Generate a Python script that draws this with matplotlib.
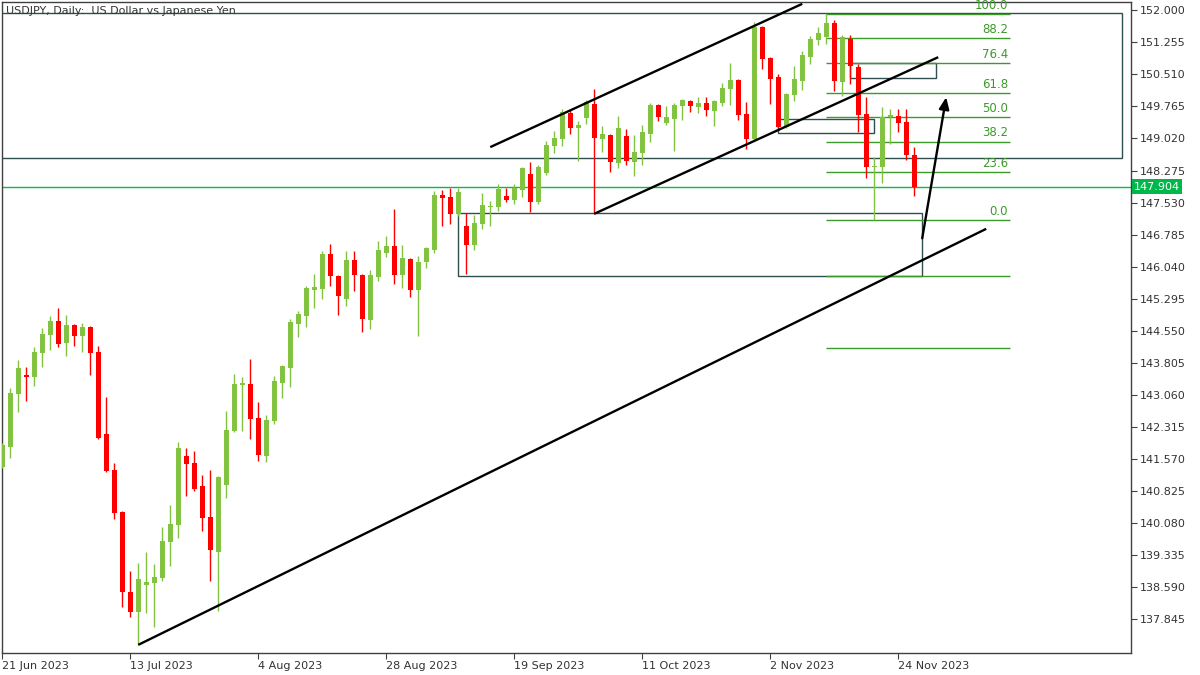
import matplotlib
matplotlib.use('Agg')
import matplotlib.pyplot as plt
import matplotlib.transforms as mtransforms
from matplotlib.patches import Rectangle
import numpy as np

# ---------------- data (USDJPY daily, 21 Jun 2023 - 28 Nov 2023) ----------------
opens = [141.38, 141.85, 143.08, 143.52, 143.48, 144.03, 144.45, 144.78, 144.27, 144.68,
         144.43, 144.64, 144.06, 142.15, 141.31, 140.34, 138.48, 138.01, 138.64, 138.69,
         138.80, 139.64, 140.04, 141.64, 141.48, 140.94, 140.22, 139.41, 140.97, 142.22,
         143.29, 143.31, 142.52, 141.64, 142.45, 143.34, 143.69, 144.71, 144.89, 145.50,
         145.52, 146.34, 145.82, 145.29, 146.20, 145.85, 144.80, 145.80, 146.36, 146.52,
         145.85, 146.22, 145.50, 146.15, 146.43, 147.71, 147.66, 147.27, 146.99, 146.54,
         147.03, 147.43, 147.43, 147.68, 147.59, 147.82, 148.19, 147.54, 148.22, 148.85,
         149.01, 149.61, 149.26, 149.50, 149.82, 149.01, 149.10, 148.45, 149.08, 148.47,
         148.68, 149.12, 149.80, 149.38, 149.47, 149.78, 149.89, 149.75, 149.85, 149.66,
         149.85, 150.17, 150.38, 149.59, 149.01, 151.61, 150.89, 150.45, 149.29, 150.03,
         150.36, 150.91, 151.31, 151.38, 151.70, 150.33, 151.33, 150.68, 149.59, 148.36,
         148.36, 149.52, 149.54, 149.40, 148.64]
highs = [141.94, 143.22, 143.87, 143.71, 144.17, 144.62, 144.89, 145.08, 144.92, 144.71,
         144.73, 144.66, 144.20, 143.01, 141.48, 140.36, 138.97, 139.15, 139.41, 139.13,
         139.99, 140.50, 141.97, 141.83, 141.76, 141.20, 141.31, 141.17, 142.69, 143.55,
         143.48, 143.89, 142.90, 142.59, 143.50, 143.76, 144.82, 145.01, 145.59, 145.87,
         146.41, 146.57, 145.85, 146.41, 146.41, 145.87, 145.96, 146.64, 146.75, 147.38,
         146.54, 146.24, 146.29, 146.50, 147.80, 147.82, 147.87, 147.87, 147.29, 147.24,
         147.75, 147.57, 147.96, 147.87, 147.96, 148.36, 148.47, 148.40, 148.96, 149.19,
         149.71, 149.68, 149.43, 149.92, 150.17, 149.31, 149.12, 149.54, 149.24, 149.10,
         149.33, 149.85, 149.82, 149.78, 149.85, 149.94, 149.92, 149.98, 149.98, 149.92,
         150.31, 150.78, 150.40, 149.87, 151.73, 151.64, 150.91, 150.52, 150.08, 150.70,
         151.05, 151.40, 151.61, 151.91, 151.77, 151.43, 151.43, 150.75, 149.98, 148.59,
         149.75, 149.71, 149.71, 149.71, 148.82]
lows = [141.36, 141.59, 142.66, 142.92, 143.27, 143.71, 144.10, 144.17, 143.96, 144.20,
        144.06, 143.52, 142.04, 141.27, 140.18, 138.13, 137.90, 137.25, 137.99, 137.67,
        138.73, 139.08, 139.73, 140.71, 140.83, 139.90, 138.73, 138.04, 140.66, 142.20,
        142.22, 142.03, 141.52, 141.50, 142.38, 142.99, 143.24, 144.41, 144.64, 145.08,
        145.29, 145.59, 144.92, 145.13, 145.48, 144.52, 144.59, 145.71, 146.27, 145.64,
        145.54, 145.34, 144.43, 146.01, 146.36, 146.99, 147.03, 147.22, 145.87, 146.43,
        146.92, 146.99, 147.33, 147.54, 147.50, 147.66, 147.31, 147.50, 148.17, 148.68,
        148.85, 149.12, 148.50, 149.36, 147.27, 148.71, 148.24, 148.33, 148.40, 148.15,
        148.40, 148.94, 149.43, 149.33, 148.73, 149.45, 149.64, 149.61, 149.54, 149.31,
        149.78, 149.80, 149.45, 148.78, 148.99, 150.63, 149.82, 149.26, 149.26, 149.89,
        150.15, 150.75, 151.19, 151.22, 150.12, 150.01, 150.29, 149.17, 148.10, 147.12,
        147.99, 148.89, 149.17, 148.52, 147.68]
closes = [141.90, 143.10, 143.69, 143.48, 144.06, 144.48, 144.78, 144.24, 144.68, 144.43,
          144.64, 144.03, 142.06, 141.29, 140.31, 138.48, 138.01, 138.78, 138.71, 138.83,
          139.66, 140.06, 141.83, 141.45, 140.87, 140.20, 139.45, 141.15, 142.24, 143.31,
          143.34, 142.50, 141.66, 142.48, 143.38, 143.73, 144.75, 144.94, 145.54, 145.57,
          146.34, 145.82, 145.36, 146.20, 145.85, 144.82, 145.85, 146.43, 146.52, 145.85,
          146.24, 145.50, 146.15, 146.47, 147.71, 147.64, 147.27, 147.78, 146.54, 147.06,
          147.47, 147.45, 147.85, 147.59, 147.87, 148.33, 147.54, 148.36, 148.87, 149.03,
          149.64, 149.26, 149.33, 149.87, 149.03, 149.12, 148.47, 149.26, 148.50, 148.71,
          149.17, 149.80, 149.52, 149.52, 149.80, 149.92, 149.78, 149.85, 149.68, 149.89,
          150.19, 150.38, 149.57, 149.01, 151.61, 150.87, 150.40, 149.29, 150.05, 150.40,
          150.96, 151.33, 151.47, 151.70, 150.36, 151.38, 150.70, 149.57, 148.36, 148.38,
          149.52, 149.57, 149.38, 148.64, 147.904]

date_tick_bars = [0, 16, 32, 48, 64, 80, 96, 112]
date_tick_labels = ['21 Jun 2023', '13 Jul 2023', '4 Aug 2023', '28 Aug 2023',
                    '19 Sep 2023', '11 Oct 2023', '2 Nov 2023', '24 Nov 2023']
price_ticks = [152.000, 151.255, 150.510, 149.765, 149.020, 148.275, 147.530, 146.785,
               146.040, 145.295, 144.550, 143.805, 143.060, 142.315, 141.570, 140.825,
               140.080, 139.335, 138.590, 137.845]
current_price = 147.904

# Fibonacci retracement (swing high 13 Nov, swing low 21 Nov)
fib_high = 151.91
fib_low = 147.12
fib_levels = [100.0, 88.2, 76.4, 61.8, 50.0, 38.2, 23.6, 0.0]
fib_ext_levels = [-27.2, -61.8]
fib_bar_start = 103
fib_bar_end = 126

# trend lines: (bar0, price0, bar1, price1)
trend_lines = [(17, 137.25, 123, 146.92),
               (61, 148.82, 100, 152.15),
               (74, 147.27, 117, 150.91)]
arrow_line = (115, 146.70, 118, 149.98)

# zones: (bar0, bar1, price_low, price_high)
zones = [(-1, 139.96, 148.56, 151.93),
         (57, 115, 145.82, 147.29),
         (97, 109, 149.15, 149.47),
         (106, 116.7, 150.43, 150.77)]

# ---------------- drawing ----------------
W, H = 1200, 675
fig = plt.figure(figsize=(12, 6.75), dpi=100)
fig.patch.set_facecolor('white')
ax = fig.add_axes([2 / W, 22 / H, 1129 / W, 651 / H])
ax.set_facecolor('white')

GREEN = '#82c341'
RED = '#ff0000'
FIB = '#3a9a2a'
ZONE = '#2f4f4f'

o = np.array(opens); h = np.array(highs); l = np.array(lows); c = np.array(closes)
x = np.arange(len(o))
cols = np.where(c >= o, GREEN, RED)

ax.vlines(x, l, h, colors=cols, linewidth=1.0, zorder=3)
bottoms = np.minimum(o, c)
heights = np.maximum(np.abs(c - o), 0.03)
ax.bar(x, heights, bottom=bottoms, width=0.62, color=cols, linewidth=0, zorder=4)

# zones
for b0, b1, p0, p1 in zones:
    ax.add_patch(Rectangle((b0, p0), b1 - b0, p1 - p0, fill=False,
                           edgecolor=ZONE, linewidth=1.0, zorder=2))

# fib levels
rng = fib_high - fib_low
for lv in fib_levels:
    p = fib_low + lv / 100.0 * rng
    ax.hlines(p, fib_bar_start, fib_bar_end, color=FIB, linewidth=1.0, zorder=2)
    ax.annotate('%.1f' % lv, xy=(fib_bar_end - 0.3, p), xytext=(0, 1.5),
                textcoords='offset points', ha='right', va='bottom',
                fontsize=8.5, color=FIB, zorder=5, annotation_clip=False)
for lv in fib_ext_levels:
    p = fib_low + lv / 100.0 * rng
    ax.hlines(p, fib_bar_start, fib_bar_end, color=FIB, linewidth=1.0, zorder=2)

# current price line
ax.axhline(current_price, color='#00c040', linewidth=1.0, zorder=2)

# trend lines
for b0, p0, b1, p1 in trend_lines:
    ax.plot([b0, b1], [p0, p1], color='black', linewidth=1.7, zorder=6,
            solid_capstyle='butt')
b0, p0, b1, p1 = arrow_line
ax.annotate('', xy=(b1, p1), xytext=(b0, p0),
            arrowprops=dict(arrowstyle='-|>,head_length=0.7,head_width=0.3',
                            color='black', lw=1.7, shrinkA=0, shrinkB=0),
            zorder=6)

ax.set_xlim(-0.04, 141.1)
ax.set_ylim(137.06, 152.193)

# axes styling
for s in ax.spines.values():
    s.set_color('#404040')
    s.set_linewidth(1.0)
ax.yaxis.tick_right()
ax.set_yticks(price_ticks)
ax.set_yticklabels(['%.3f' % t for t in price_ticks])
ax.tick_params(axis='y', direction='out', length=4, width=0.8, colors='#404040',
               labelsize=8, pad=2, labelcolor='#333333')
ax.set_xticks(date_tick_bars)
ax.set_xticklabels(date_tick_labels, ha='left')
ax.tick_params(axis='x', direction='out', length=4, width=0.8, colors='#404040',
               labelsize=8, pad=2, labelcolor='#333333')

# current price label
trans = mtransforms.blended_transform_factory(ax.transAxes, ax.transData)
ax.text(1.0 + 3 / 1129, current_price, '147.904', transform=trans, ha='left', va='center',
        fontsize=8, color='white', clip_on=False, zorder=10,
        bbox=dict(boxstyle='square,pad=0.2', facecolor='#00b84a', edgecolor='none'))

# title
fig.text(6 / W, 1 - 11 / H, 'USDJPY, Daily:  US Dollar vs Japanese Yen',
         ha='left', va='center', fontsize=8, color='#333333')

fig.savefig('out.png', dpi=100)
